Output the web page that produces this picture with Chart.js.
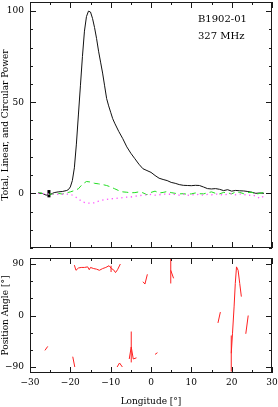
<!DOCTYPE html>
<html>
<head>
<meta charset="utf-8">
<script src="https://cdn.jsdelivr.net/npm/chart.js@4.4.1/dist/chart.umd.min.js"></script>
<style>
  html, body { margin: 0; padding: 0; background: #fff; }
  body { width: 278px; height: 407px; position: relative; overflow: hidden; }
  canvas { position: absolute; left: 0; }
  #cTop { top: 0; }
  #cBot { top: 252px; }
  .note { position: absolute; left: 198px; font-family: 'DejaVu Serif', serif; font-size: 10px; color: #000; line-height: 12px; white-space: nowrap; }
</style>
</head>
<body>
<canvas id="cTop" width="278" height="252"></canvas>
<canvas id="cBot" width="278" height="155"></canvas>
<div class="note" style="top:13px;">B1902-01</div>
<div class="note" style="top:30px;">327 MHz</div>
<script>
// ---------- DATA ----------
const pulsarName = 'B1902-01';
const frequency = '327 MHz';

// Total power (black)
const totalLon = [-28,-27,-26,-25,-24,-23,-22,-21,-20.5,-20,-19.5,-19,-18.5,-18,-17.5,-17,-16.5,-16,-15.5,-15,-14.5,-14,-13.5,-13,-12.5,-12,-11.5,-11,-10.5,-10,-9.5,-9,-8,-7,-6,-5,-4,-3,-2,-1,0,1,2,3,4,5,6,7,8,9,10,11,12,13,14,15,16,17,18,19,20,21,22,23,24,25,26,27,28];
const totalVal = [0,0,-1,-0.6,0.4,0.8,1,1.5,2,3.5,7,14,27,43,59,75,89,97,100,99.5,96,91,85,78,72,66,59,52,48,44.5,41,38.5,34,30,25.5,22,19,16,13.5,12.5,11.5,9.8,8.3,7.6,7,6,5.5,4.8,4.4,4.3,4.2,4.4,4.3,3.5,2.6,2.4,2.6,2.2,1.5,2,1.2,1.6,1.4,1.3,1.0,0.6,0,0.2,0];

// Linear (green dashed) and circular (magenta dotted) power
const polLon = [-28,-27,-26,-25,-24,-23,-22,-21,-20,-19,-18,-17,-16,-15,-14,-13,-12,-11,-10,-9,-8,-7,-6,-5,-4,-3,-2,-1,0,1,2,3,4,5,6,7,8,9,10,11,12,13,14,15,16,17,18,19,20,21,22,23,24,25,26,27,28];
const linearVal = [0.5,0,-0.5,-0.5,-0.3,0,-0.4,0.2,0.8,1.5,2.5,5,6.5,6.2,5.5,5.2,4.8,4.3,3.5,2.5,1.5,0.8,0.6,0.3,0.4,0.8,0.3,-0.8,0.5,1.2,0.2,0.5,1.0,0.4,0,-0.3,-0.2,-0.5,-0.3,0.2,-0.2,-0.3,0.3,0.8,0,-0.3,0.5,0.3,-0.3,0.8,0.5,-0.2,0.4,0.6,-0.5,0,0.5];
const circularVal = [0,0,-0.5,-0.3,-0.5,-0.6,-0.5,-0.4,-0.5,-1.5,-3,-4.7,-5.3,-5.4,-5.2,-4.3,-3.7,-3.3,-3,-2.9,-2.6,-2.4,-2.1,-2,-1.6,-1.3,-1,-0.8,-0.6,-1,-0.8,-0.4,-0.5,-0.5,-0.6,-1,-0.5,-1.2,-0.6,-0.9,-0.5,-1.0,-0.6,-0.8,-0.4,-0.6,-1,-0.5,-0.2,-0.8,-0.4,-0.6,-1.2,-0.8,-1.5,-2.8,-1.5];

// Off-pulse error bar on total power
const powErrLon = [-25.3];
const powErrLo = [-2.2];
const powErrHi = [1.8];

// Position angle (null = gap between segments)
const paLon = [-26.3,-25.6,null,-19.4,-18.9,null,-19.0,-18.6,-18.0,-17.3,-16.5,-15.7,-15.3,-15.0,-14.2,-13.5,-12.8,-12.0,-11.2,-10.4,-9.8,-9.3,-8.8,-8.3,-7.6,null,-8.4,-7.8,-7.1,null,-5.4,-4.9,-4.4,-3.6,null,-2.0,-1.5,-0.9,null,1.0,1.6,null,4.9,5.6,null,16.6,17.2,null,19.9,20.2,20.6,20.9,21.2,21.6,22.0,22.4,null,23.5,24.1];
const paVal = [-61,-54,null,-72,-90,null,88,79,83,84,84,85,80,84,82,81,79,82,84,87,82,80,75,80,90,null,-90,-83,-90,null,-76,-55,-76,-74,null,59,55,72,null,-68,-65,null,79,65,null,-13,6,null,-66,-32,15,56,85,79,56,33,null,-32,0];

// Position angle error bars
const paErrLon = [-9.9,-4.9,4.9,19.9];
const paErrLo = [76,-82,56,-98];
const paErrHi = [87,-28,102,-35];

// Tick labels
const topYTicks = [0,50,100];
const botYTicks = [-90,0,90];
const xTicks = [-30,-20,-10,0,10,20,30];

// ---------- helpers ----------
const pts = (xs, ys) => xs.map((x, i) => (x === null || ys[i] === null) ? {x: NaN, y: null} : {x, y: ys[i]});
const errPts = (xs, lo, hi) => {
  const out = [];
  xs.forEach((x, i) => { out.push({x, y: lo[i]}, {x, y: hi[i]}, {x: NaN, y: null}); });
  return out;
};
const minus = v => String(v).replace('-', '\u2212');
const noPad = s => { s.paddingTop = 0; s.paddingBottom = 0; s.paddingLeft = 0; s.paddingRight = 0; };

Chart.defaults.font.family = "'DejaVu Serif', serif";
Chart.defaults.font.size = 9;
Chart.defaults.color = '#000';

const frameTicks = {
  id: 'frameTicks',
  afterDatasetsDraw(chart, args, o) {
    const {ctx, chartArea: a, scales} = chart;
    ctx.save();
    ctx.strokeStyle = '#1a1a1a';
    ctx.lineWidth = 1;
    ctx.beginPath();
    const seg = (x1, y1, x2, y2) => { ctx.moveTo(x1, y1); ctx.lineTo(x2, y2); };
    const xs = scales.x, ys = scales.y;
    for (let v = o.xMin; v <= o.xMax + 1e-9; v += o.xStep) {
      const p = Math.round(xs.getPixelForValue(v)) + 0.5;
      const L = (Math.abs(v % o.xMajor) < 1e-9) ? o.maj : o.min;
      seg(p, a.bottom, p, a.bottom - L);
      seg(p, a.top, p, a.top + L);
    }
    for (let v = o.yMin; v <= o.yMax + 1e-9; v += o.yStep) {
      const p = Math.round(ys.getPixelForValue(v)) + 0.5;
      const L = (Math.abs(v % o.yMajor) < 1e-9) ? o.maj : o.min;
      seg(a.left, p, a.left + L, p);
      seg(a.right, p, a.right - L, p);
    }
    ctx.stroke();
    ctx.strokeRect(a.left + 0.5, a.top + 0.5, a.right - a.left - 1, a.bottom - a.top - 1);
    ctx.restore();
  }
};

const lineDs = (data, color, width, dash) => ({
  data, borderColor: color, borderWidth: width, borderDash: dash || [],
  showLine: true, pointRadius: 0, spanGaps: false, tension: 0, fill: false
});

// ---------- TOP PANEL ----------
new Chart(document.getElementById('cTop'), {
  type: 'scatter',
  data: {
    datasets: [
      lineDs(pts(polLon, circularVal), '#ff55ff', 1.3, [1.3, 3.5]),
      lineDs(pts(polLon, linearVal), '#22dd22', 1, [6, 4]),
      lineDs(pts(totalLon, totalVal), '#111', 1),
      lineDs(errPts(powErrLon, powErrLo, powErrHi), '#000', 3)
    ]
  },
  options: {
    responsive: false, animation: false, devicePixelRatio: 1,
    layout: { padding: { left: 0, right: 6, top: 2, bottom: 0 } },
    plugins: {
      legend: { display: false }, tooltip: { enabled: false },
      frameTicks: { xMin: -30, xMax: 30, xStep: 5, xMajor: 10, yMin: -30, yMax: 100, yStep: 10, yMajor: 50, maj: 6, min: 3 }
    },
    scales: {
      x: {
        type: 'linear', min: -30, max: 30,
        afterFit: s => { s.height = 4; noPad(s); },
        grid: { display: false, drawTicks: false }, border: { display: false },
        ticks: { display: false }
      },
      y: {
        type: 'linear', min: -30, max: 105,
        afterFit: s => { s.width = 30; noPad(s); },
        afterBuildTicks: s => { s.ticks = topYTicks.map(v => ({value: v})); },
        grid: { display: false, drawTicks: false }, border: { display: false },
        ticks: { padding: 6, callback: v => minus(v), font: { size: 9 } },
        title: { display: true, text: 'Total, Linear, and Circular Power', padding: { top: 0, bottom: 0 }, font: { size: 9 } }
      }
    }
  },
  plugins: [frameTicks]
});

// ---------- BOTTOM PANEL ----------
new Chart(document.getElementById('cBot'), {
  type: 'scatter',
  data: {
    datasets: [
      lineDs(pts(paLon, paVal), '#ff2020', 1),
      lineDs(errPts(paErrLon, paErrLo, paErrHi), '#ff2020', 1)
    ]
  },
  options: {
    responsive: false, animation: false, devicePixelRatio: 1,
    layout: { padding: { left: 0, right: 6, top: 6, bottom: 0 } },
    plugins: {
      legend: { display: false }, tooltip: { enabled: false },
      frameTicks: { xMin: -30, xMax: 30, xStep: 5, xMajor: 10, yMin: -90, yMax: 90, yStep: 30, yMajor: 90, maj: 6, min: 3 }
    },
    scales: {
      x: {
        type: 'linear', min: -30, max: 30,
        afterFit: s => { s.height = 34; noPad(s); },
        afterBuildTicks: s => { s.ticks = xTicks.map(v => ({value: v})); },
        grid: { display: false, drawTicks: false }, border: { display: false },
        ticks: { padding: 4, maxRotation: 0, autoSkip: false, callback: v => minus(v), font: { size: 9 } },
        title: { display: true, text: 'Longitude [\u00b0]', padding: { top: 0, bottom: 0 }, font: { size: 9 } }
      },
      y: {
        type: 'linear', min: -100.5, max: 100.5,
        afterFit: s => { s.width = 30; noPad(s); },
        afterBuildTicks: s => { s.ticks = botYTicks.map(v => ({value: v})); },
        grid: { display: false, drawTicks: false }, border: { display: false },
        ticks: { padding: 6, callback: v => minus(v), font: { size: 9 } },
        title: { display: true, text: 'Position Angle [\u00b0]', padding: { top: 0, bottom: 0 }, font: { size: 9 } }
      }
    }
  },
  plugins: [frameTicks]
});
</script>
</body>
</html>
